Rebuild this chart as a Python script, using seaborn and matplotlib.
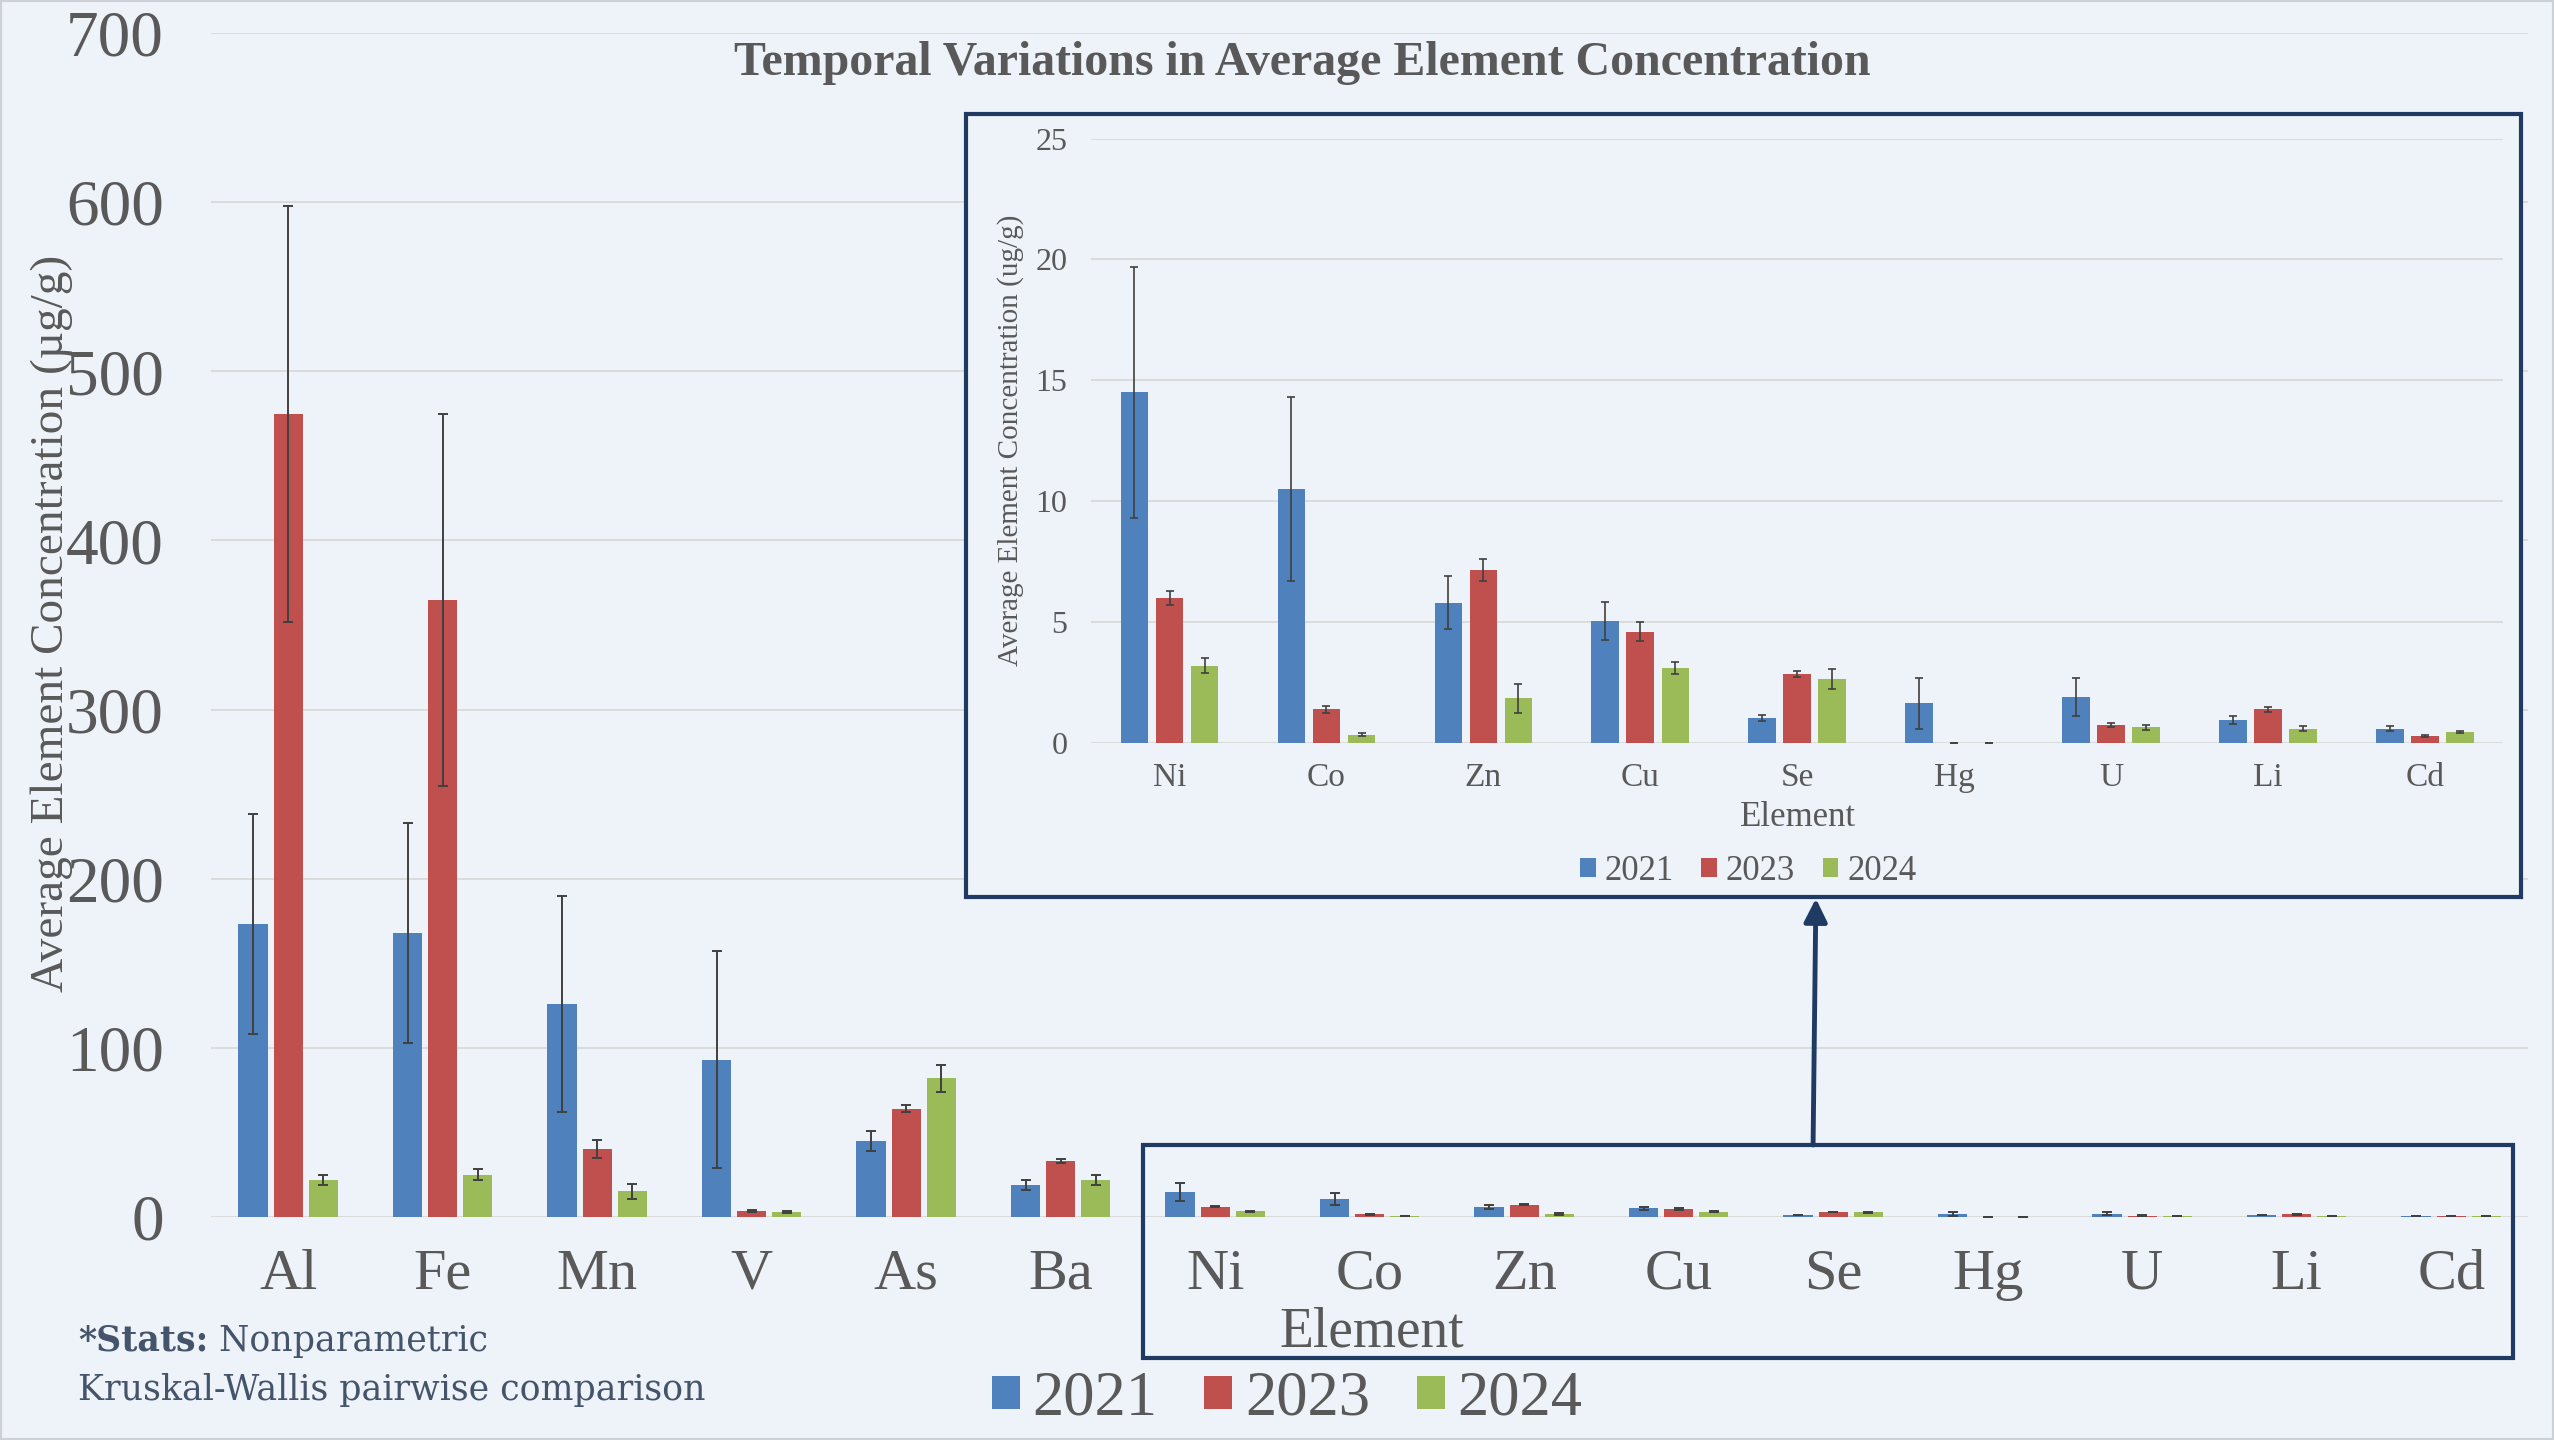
import matplotlib
matplotlib.use('Agg')
import matplotlib.pyplot as plt
from matplotlib.patches import Rectangle
import pandas as pd
import seaborn as sns

# ========================
# DATA
# ========================

elements = ['Al', 'Fe', 'Mn', 'V', 'As', 'Ba', 'Ni', 'Co', 'Zn', 'Cu', 'Se', 'Hg', 'U', 'Li', 'Cd']
years = ['2021', '2023', '2024']

mean_2021 = [173, 168, 126, 93, 45, 19, 14.5, 10.5, 5.8, 5.05, 1.05, 1.65, 1.9, 0.95, 0.6]
mean_2023 = [475, 365, 40, 3.5, 64, 33, 6.0, 1.4, 7.15, 4.6, 2.85, 0.02, 0.75, 1.4, 0.3]
mean_2024 = [22, 25, 15, 3, 82, 22, 3.2, 0.35, 1.85, 3.1, 2.65, 0.02, 0.65, 0.6, 0.45]

err_2021 = [65, 65, 64, 64, 6, 3, 5.2, 3.8, 1.1, 0.8, 0.12, 1.05, 0.8, 0.17, 0.1]
err_2023 = [123, 110, 5.5, 0.6, 2, 1.2, 0.3, 0.15, 0.45, 0.4, 0.12, 0.0, 0.07, 0.1, 0.03]
err_2024 = [3, 3, 4.5, 0.6, 8, 3, 0.3, 0.05, 0.6, 0.25, 0.4, 0.0, 0.1, 0.1, 0.05]

inset_elements = elements[6:]

main_yticks = [0, 100, 200, 300, 400, 500, 600, 700]
inset_yticks = [0, 5, 10, 15, 20, 25]

# ========================
# STYLE
# ========================

BG = '#EEF2F9'
GRID = '#D9D9D9'
TEXT = '#595959'
NAVY = '#1F3B63'
NOTE = '#44546A'
ERR = '#404040'
PALETTE = {'2021': '#4F81BD', '2023': '#C0504D', '2024': '#9BBB59'}

plt.rcParams['font.family'] = ['Liberation Serif', 'DejaVu Serif']
plt.rcParams['text.color'] = TEXT


def long_form(names):
    rows = []
    for yr, vals in zip(years, [mean_2021, mean_2023, mean_2024]):
        for el, v in zip(elements, vals):
            if el in names:
                rows.append({'Element': el, 'Year': yr, 'Value': v})
    return pd.DataFrame(rows)


def add_errorbars(ax, names, capsize, lw):
    for cont, errs in zip(ax.containers, [err_2021, err_2023, err_2024]):
        for bar, el in zip(cont, names):
            i = elements.index(el)
            xc = bar.get_x() + bar.get_width() / 2
            ax.errorbar(xc, bar.get_height(), yerr=errs[i], fmt='none',
                        ecolor=ERR, elinewidth=lw, capsize=capsize, capthick=lw, zorder=4)


def style_axes(ax, yticks, xsize, ysize, xpad, ypad):
    ax.set_facecolor(BG)
    for s in ax.spines.values():
        s.set_visible(False)
    ax.set_yticks(yticks)
    ax.yaxis.grid(True, color=GRID, lw=1.3)
    ax.set_axisbelow(True)
    ax.tick_params(axis='both', length=0, colors=TEXT)
    ax.tick_params(axis='x', pad=xpad, labelsize=xsize)
    ax.tick_params(axis='y', pad=ypad, labelsize=ysize)
    ax.set_xlabel('')
    ax.set_ylabel('')


fig = plt.figure(figsize=(25.54, 14.4), dpi=100, facecolor=BG)

# ---- main chart ----
ax = fig.add_axes([0.0826, 0.155, 0.9074, 0.822], zorder=0)
sns.barplot(data=long_form(elements), x='Element', y='Value', hue='Year',
            order=elements, hue_order=years, palette=PALETTE, saturation=1,
            width=0.68, gap=0.16, errorbar=None, linewidth=0, ax=ax)
add_errorbars(ax, elements, 3.5, 1.4)
ax.set_xlim(-0.5, 14.5)
ax.set_ylim(0, 700)
style_axes(ax, main_yticks, 42, 47, 23, 34)

sns.move_legend(ax, 'center', bbox_to_anchor=(0.504, 0.028),
                bbox_transform=fig.transFigure, ncol=3, frameon=False,
                fontsize=45, title=None, handlelength=0.45, handleheight=0.45,
                handletextpad=0.2, columnspacing=0.75)

fig.text(0.0204, 0.567, 'Average Element Concentration (\u00b5g/g)', rotation=90,
         ha='center', va='center', fontsize=34, color=TEXT)
fig.text(0.537, 0.0745, 'Element', ha='center', va='center', fontsize=40, color=TEXT)
fig.text(0.510, 0.956, 'Temporal Variations in Average Element Concentration',
         ha='center', va='center', fontsize=34.5, fontweight='bold', color=TEXT)

# stats note
t1 = fig.text(0.0305, 0.0688, '*Stats:', ha='left', va='center', fontsize=25,
              fontweight='bold', color=NOTE, family=['DejaVu Serif'])
ax.annotate(' Nonparametric', xy=(1, 0.5), xycoords=t1, ha='left', va='center',
            fontsize=25, color=NOTE, family=['DejaVu Serif'], annotation_clip=False)
fig.text(0.0305, 0.0347, 'Kruskal-Wallis pairwise comparison', ha='left', va='center',
         fontsize=25, color=NOTE, family=['DejaVu Serif'])

# ---- frames (inset frame covers main gridlines) ----
fig.add_artist(Rectangle((0.3782, 0.3771), 0.6089, 0.5438, transform=fig.transFigure,
                         facecolor=BG, edgecolor=NAVY, lw=3, zorder=1))
fig.add_artist(Rectangle((0.4475, 0.0569), 0.5364, 0.1479, transform=fig.transFigure,
                         fill=False, edgecolor=NAVY, lw=3, zorder=1))
fig.add_artist(Rectangle((0, 0), 1, 1, transform=fig.transFigure,
                         fill=False, edgecolor='#CDD1D7', lw=3, zorder=1))

arrow_ax = fig.add_axes([0, 0, 1, 1], zorder=3)
arrow_ax.axis('off')
arrow_ax.set_xlim(0, 1)
arrow_ax.set_ylim(0, 1)
arrow_ax.annotate('', xy=(0.7110, 0.3760), xytext=(0.7099, 0.2049),
                  arrowprops=dict(arrowstyle='-|>', color=NAVY, lw=3.5, mutation_scale=35,
                                  shrinkA=0, shrinkB=0))

# ---- inset chart ----
ax_in = fig.add_axes([0.4272, 0.484, 0.553, 0.4198], zorder=2)
sns.barplot(data=long_form(inset_elements), x='Element', y='Value', hue='Year',
            order=inset_elements, hue_order=years, palette=PALETTE, saturation=1,
            width=0.67, gap=0.21, errorbar=None, linewidth=0, ax=ax_in)
add_errorbars(ax_in, inset_elements, 3, 1.2)
ax_in.set_xlim(-0.5, 8.5)
ax_in.set_ylim(0, 25)
style_axes(ax_in, inset_yticks, 24, 23, 14, 17)
sns.move_legend(ax_in, 'center', bbox_to_anchor=(0.6845, 0.395),
                bbox_transform=fig.transFigure, ncol=3, frameon=False,
                fontsize=25, title=None, handlelength=0.45, handleheight=0.45,
                handletextpad=0.25, columnspacing=0.8)
fig.text(0.3955, 0.694, 'Average Element Concentration (ug/g)', rotation=90,
         ha='center', va='center', fontsize=21, color=TEXT)
fig.text(0.704, 0.432, 'Element', ha='center', va='center', fontsize=25, color=TEXT)

fig.savefig('out.png', dpi=100, facecolor=BG)
